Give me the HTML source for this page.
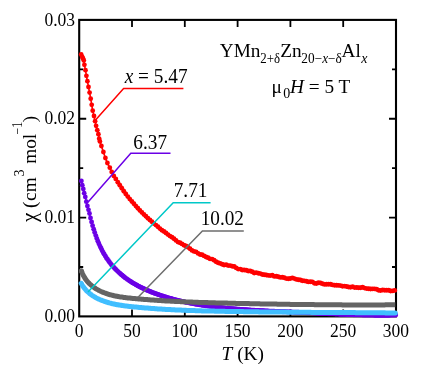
<!DOCTYPE html><html><head><meta charset="utf-8"><title>chart</title><style>
html,body{margin:0;padding:0;background:#fff}
#c{position:relative;width:436px;height:374px;overflow:hidden;background:#fff}
svg text{font-family:"Liberation Serif",serif;fill:#000}
</style></head><body><div id="c">
<svg width="436" height="374" viewBox="0 0 436 374" style="position:absolute;left:0;top:0">
<rect width="436" height="374" fill="#fff"/>
<rect x="79.2" y="19.9" width="316.8" height="296.5" fill="none" stroke="#000" stroke-width="2.1"/>
<path d="M132.00,316.4 v-7 M132.00,19.9 v7 M184.80,316.4 v-7 M184.80,19.9 v7 M237.60,316.4 v-7 M237.60,19.9 v7 M290.40,316.4 v-7 M290.40,19.9 v7 M343.20,316.4 v-7 M343.20,19.9 v7 M79.2,217.57 h7 M396.0,217.57 h-7 M79.2,118.73 h7 M396.0,118.73 h-7 M79.2,266.98 h4 M396.0,266.98 h-4 M79.2,168.15 h4 M396.0,168.15 h-4 M79.2,69.32 h4 M396.0,69.32 h-4" stroke="#000" stroke-width="1.8" fill="none"/>
<path d="M81.2,54.4 L82.2,56.8 L83,58.4 L83.8,60.4 L84.4,64.8 L85.5,70.2 L86.4,75.8 L87.4,81.2 L88.5,87 L89.6,92.6 L90.7,98.7 L91.7,104.8 L92.7,110.7 L94,116 L95.1,121.2 L96.1,125.8 L97.3,130.2 L98.4,134.2 L99.2,138.7 L99.9,141.4 L101.4,146 L103.4,152 L105.4,158 L107.4,163 L109.8,167.7 L111.7,171.9 L113.8,175.9" fill="none" stroke="#ff0000" stroke-width="1.6"/>
<path d="M113.0,173.9 L113.6,174.9 L114.1,175.9 L114.6,176.8 L115.2,177.8 L115.7,178.8 L116.3,179.7 L116.9,180.7 L117.5,181.6 L118.1,182.6 L118.6,183.5 L119.2,184.5 L119.9,185.4 L120.5,186.3 L121.1,187.3 L121.7,188.2 L122.3,189.1 L123.0,190.0 L123.6,190.9 L124.3,191.8 L124.9,192.7 L125.6,193.6 L126.3,194.5 L126.9,195.4 L127.6,196.3 L128.3,197.2 L129.0,198.0 L129.7,198.9 L130.4,199.8 L131.1,200.6 L131.8,201.5 L132.6,202.3 L133.3,203.2 L134.0,204.0 L134.8,204.9 L135.5,205.7 L136.2,206.5 L137.0,207.3 L137.8,208.2 L138.5,209.0 L139.3,209.8 L140.1,210.6 L140.8,211.4 L141.6,212.2 L142.4,213.0 L143.2,213.7 L144.0,214.5 L144.8,215.3 L145.6,216.1 L146.4,216.8 L147.2,217.6 L148.0,218.3 L148.9,219.1 L149.7,219.8 L150.5,220.6 L151.3,221.3 L152.2,222.1 L153.0,222.8 L153.9,223.5 L154.7,224.2 L155.6,224.9 L156.4,225.7 L157.3,226.4 L158.2,227.1 L159.0,227.8 L159.9,228.5 L160.8,229.2 L161.6,229.8 L162.5,230.5 L163.4,231.2 L164.3,231.9 L165.2,232.5 L166.1,233.2 L167.0,233.9 L167.9,234.5 L168.8,235.2 L169.7,235.8 L170.6,236.5 L171.5,237.1 L172.4,237.8 L173.3,238.4 L174.2,239.0 L175.2,239.7 L176.1,240.3 L177.0,240.9 L177.9,241.5 L178.9,242.1 L179.8,242.7 L180.7,243.4 L181.7,244.0 L182.6,244.5 L183.5,245.1 L184.5,245.7 L185.4,246.3 L186.4,246.9 L187.3,247.5 L188.3,248.0 L189.2,248.6 L190.2,249.1 L191.1,249.7 L192.1,250.2 L193.1,250.8 L194.0,251.3 L195.0,251.8 L196.0,252.4 L197.0,252.9 L198.0,253.4 L199.0,253.9 L199.9,254.4 L200.9,254.9 L201.9,255.4 L202.9,255.9 L203.9,256.3 L204.9,256.8 L206.0,257.3 L207.0,257.7 L208.0,258.2 L209.0,258.6 L210.0,259.0 L211.1,259.5 L212.1,259.9 L213.1,260.3 L214.2,260.7 L215.2,261.1 L216.3,261.5 L217.3,261.9 L218.4,262.3 L219.4,262.6 L220.5,263.0 L221.5,263.4 L222.6,263.7 L223.6,264.1 L224.7,264.4 L225.8,264.8 L226.8,265.1 L227.9,265.4 L229.0,265.8 L230.0,266.1 L231.1,266.4 L232.2,266.7 L233.2,267.0 L234.3,267.3 L235.4,267.6 L236.5,267.9 L237.5,268.2 L238.6,268.5 L239.7,268.8 L240.8,269.1 L241.8,269.3 L242.9,269.6 L244.0,269.9 L245.1,270.1 L246.1,270.4 L247.2,270.7 L248.3,270.9 L249.4,271.2 L250.5,271.4 L251.6,271.6 L252.6,271.9 L253.7,272.1 L254.8,272.3 L255.9,272.6 L257.0,272.8 L258.1,273.0 L259.1,273.3 L260.2,273.5 L261.3,273.7 L262.4,273.9 L263.5,274.1 L264.6,274.3 L265.7,274.5 L266.8,274.7 L267.9,274.9 L268.9,275.1 L270.0,275.3 L271.1,275.5 L272.2,275.7 L273.3,275.9 L274.4,276.1 L275.5,276.3 L276.6,276.5 L277.7,276.7 L278.8,276.9 L279.9,277.1 L281.0,277.3 L282.1,277.5 L283.2,277.6 L284.3,277.8 L285.4,278.0 L286.5,278.2 L287.5,278.4 L288.6,278.6 L289.7,278.7 L290.8,278.9 L291.9,279.1 L293.0,279.3 L294.1,279.5 L295.2,279.6 L296.3,279.8 L297.4,280.0 L298.5,280.1 L299.6,280.3 L300.7,280.5 L301.8,280.7 L302.9,280.8 L304.0,281.0 L305.2,281.2 L306.3,281.3 L307.4,281.5 L308.5,281.6 L309.6,281.8 L310.7,282.0 L311.8,282.1 L312.9,282.3 L314.0,282.4 L315.1,282.6 L316.2,282.7 L317.3,282.9 L318.4,283.0 L319.5,283.2 L320.6,283.3 L321.7,283.5 L322.8,283.6 L323.9,283.7 L325.0,283.9 L326.1,284.0 L327.2,284.2 L328.3,284.3 L329.5,284.4 L330.6,284.6 L331.7,284.7 L332.8,284.8 L333.9,285.0 L335.0,285.1 L336.1,285.2 L337.2,285.4 L338.3,285.5 L339.4,285.6 L340.5,285.7 L341.6,285.9 L342.7,286.0 L343.8,286.1 L344.9,286.2 L346.1,286.4 L347.2,286.5 L348.3,286.6 L349.4,286.7 L350.5,286.8 L351.6,287.0 L352.7,287.1 L353.8,287.2 L354.9,287.3 L356.0,287.4 L357.1,287.5 L358.2,287.6 L359.3,287.8 L360.4,287.9 L361.6,288.0 L362.7,288.1 L363.8,288.2 L364.9,288.3 L366.0,288.4 L367.1,288.5 L368.2,288.6 L369.3,288.7 L370.4,288.9 L371.5,289.0 L372.6,289.1 L373.7,289.2 L374.8,289.3 L375.9,289.4 L377.0,289.5 L378.1,289.6 L379.2,289.7 L380.3,289.8 L381.5,289.9 L382.6,290.0 L383.7,290.1 L384.8,290.2 L385.9,290.3 L387.0,290.4 L388.1,290.5 L389.2,290.6 L390.3,290.7 L391.4,290.8 L392.5,290.9 L393.6,291.0 L394.7,291.1 L395.8,291.2" fill="none" stroke="#ff0000" stroke-width="1.6" stroke-linecap="round" stroke-linejoin="round"/>
<g fill="#ff0000"><circle cx="81.2" cy="54.4" r="2.4"/><circle cx="82.2" cy="56.8" r="2.4"/><circle cx="83" cy="58.4" r="2.4"/><circle cx="83.8" cy="60.4" r="2.4"/><circle cx="84.4" cy="64.8" r="2.4"/><circle cx="85.5" cy="70.2" r="2.4"/><circle cx="86.4" cy="75.8" r="2.4"/><circle cx="87.4" cy="81.2" r="2.4"/><circle cx="88.5" cy="87" r="2.4"/><circle cx="89.6" cy="92.6" r="2.4"/><circle cx="90.7" cy="98.7" r="2.4"/><circle cx="91.7" cy="104.8" r="2.4"/><circle cx="92.7" cy="110.7" r="2.4"/><circle cx="94" cy="116" r="2.4"/><circle cx="95.1" cy="121.2" r="2.4"/><circle cx="96.1" cy="125.8" r="2.4"/><circle cx="97.3" cy="130.2" r="2.4"/><circle cx="98.4" cy="134.2" r="2.4"/><circle cx="99.2" cy="138.7" r="2.4"/><circle cx="99.9" cy="141.4" r="2.4"/><circle cx="101.4" cy="146" r="2.4"/><circle cx="103.4" cy="152" r="2.4"/><circle cx="105.4" cy="158" r="2.4"/><circle cx="107.4" cy="163" r="2.4"/><circle cx="109.8" cy="167.7" r="2.4"/><circle cx="111.7" cy="171.9" r="2.4"/><circle cx="113.8" cy="175.9" r="2.4"/></g>
<g fill="#ff0000"><circle cx="115.8" cy="178.9" r="2.45"/><circle cx="117.8" cy="182.2" r="2.45"/><circle cx="119.8" cy="185.3" r="2.45"/><circle cx="121.8" cy="188.3" r="2.45"/><circle cx="123.8" cy="191.2" r="2.45"/><circle cx="125.8" cy="193.9" r="2.45"/><circle cx="127.8" cy="196.6" r="2.45"/><circle cx="129.8" cy="199.1" r="2.45"/><circle cx="131.9" cy="201.5" r="2.45"/><circle cx="133.9" cy="203.8" r="2.45"/><circle cx="135.9" cy="206.1" r="2.45"/><circle cx="137.9" cy="208.3" r="2.45"/><circle cx="139.9" cy="210.4" r="2.45"/><circle cx="141.9" cy="212.4" r="2.45"/><circle cx="143.9" cy="214.4" r="2.45"/><circle cx="145.9" cy="216.3" r="2.45"/><circle cx="147.9" cy="218.2" r="2.45"/><circle cx="149.9" cy="220.0" r="2.45"/><circle cx="151.9" cy="221.8" r="2.45"/><circle cx="153.9" cy="223.5" r="2.45"/><circle cx="155.9" cy="225.1" r="2.45"/><circle cx="157.9" cy="226.8" r="2.45"/><circle cx="159.9" cy="228.6" r="2.45"/><circle cx="161.9" cy="230.2" r="2.45"/><circle cx="164.0" cy="231.5" r="2.45"/><circle cx="166.0" cy="233.0" r="2.45"/><circle cx="168.0" cy="234.6" r="2.45"/><circle cx="170.0" cy="236.1" r="2.45"/><circle cx="172.0" cy="237.3" r="2.45"/><circle cx="174.0" cy="238.8" r="2.45"/><circle cx="176.0" cy="240.4" r="2.45"/><circle cx="178.0" cy="242.1" r="2.45"/><circle cx="180.0" cy="242.8" r="2.45"/><circle cx="182.0" cy="243.9" r="2.45"/><circle cx="184.0" cy="245.2" r="2.45"/><circle cx="186.0" cy="246.0" r="2.45"/><circle cx="188.0" cy="247.3" r="2.45"/><circle cx="190.0" cy="248.7" r="2.45"/><circle cx="192.0" cy="250.4" r="2.45"/><circle cx="194.0" cy="251.4" r="2.45"/><circle cx="196.1" cy="251.9" r="2.45"/><circle cx="198.1" cy="253.4" r="2.45"/><circle cx="200.1" cy="254.5" r="2.45"/><circle cx="202.1" cy="254.8" r="2.45"/><circle cx="204.1" cy="255.9" r="2.45"/><circle cx="206.1" cy="257.0" r="2.45"/><circle cx="208.1" cy="257.8" r="2.45"/><circle cx="210.1" cy="258.9" r="2.45"/><circle cx="212.1" cy="259.1" r="2.45"/><circle cx="214.1" cy="260.2" r="2.45"/><circle cx="216.1" cy="261.8" r="2.45"/><circle cx="218.1" cy="262.7" r="2.45"/><circle cx="220.1" cy="263.4" r="2.45"/><circle cx="222.1" cy="264.2" r="2.45"/><circle cx="224.1" cy="265.0" r="2.45"/><circle cx="226.2" cy="264.8" r="2.45"/><circle cx="228.2" cy="265.6" r="2.45"/><circle cx="230.2" cy="265.6" r="2.45"/><circle cx="232.2" cy="266.2" r="2.45"/><circle cx="234.2" cy="266.5" r="2.45"/><circle cx="236.2" cy="267.9" r="2.45"/><circle cx="238.2" cy="269.1" r="2.45"/><circle cx="240.2" cy="269.1" r="2.45"/><circle cx="242.2" cy="270.0" r="2.45"/><circle cx="244.2" cy="270.0" r="2.45"/><circle cx="246.2" cy="270.3" r="2.45"/><circle cx="248.2" cy="271.0" r="2.45"/><circle cx="250.2" cy="271.0" r="2.45"/><circle cx="252.2" cy="271.8" r="2.45"/><circle cx="254.2" cy="273.0" r="2.45"/><circle cx="256.2" cy="272.6" r="2.45"/><circle cx="258.3" cy="273.2" r="2.45"/><circle cx="260.3" cy="273.6" r="2.45"/><circle cx="262.3" cy="274.5" r="2.45"/><circle cx="264.3" cy="274.8" r="2.45"/><circle cx="266.3" cy="275.0" r="2.45"/><circle cx="268.3" cy="275.4" r="2.45"/><circle cx="270.3" cy="275.6" r="2.45"/><circle cx="272.3" cy="275.3" r="2.45"/><circle cx="274.3" cy="276.4" r="2.45"/><circle cx="276.3" cy="276.2" r="2.45"/><circle cx="278.3" cy="276.7" r="2.45"/><circle cx="280.3" cy="277.4" r="2.45"/><circle cx="282.3" cy="277.3" r="2.45"/><circle cx="284.3" cy="277.7" r="2.45"/><circle cx="286.3" cy="278.6" r="2.45"/><circle cx="288.4" cy="278.7" r="2.45"/><circle cx="290.4" cy="278.5" r="2.45"/><circle cx="292.4" cy="277.9" r="2.45"/><circle cx="294.4" cy="278.6" r="2.45"/><circle cx="296.4" cy="279.4" r="2.45"/><circle cx="298.4" cy="279.8" r="2.45"/><circle cx="300.4" cy="280.0" r="2.45"/><circle cx="302.4" cy="280.7" r="2.45"/><circle cx="304.4" cy="280.9" r="2.45"/><circle cx="306.4" cy="281.2" r="2.45"/><circle cx="308.4" cy="281.9" r="2.45"/><circle cx="310.4" cy="281.7" r="2.45"/><circle cx="312.4" cy="281.9" r="2.45"/><circle cx="314.4" cy="283.2" r="2.45"/><circle cx="316.4" cy="283.5" r="2.45"/><circle cx="318.4" cy="282.7" r="2.45"/><circle cx="320.5" cy="283.0" r="2.45"/><circle cx="322.5" cy="283.7" r="2.45"/><circle cx="324.5" cy="284.4" r="2.45"/><circle cx="326.5" cy="284.3" r="2.45"/><circle cx="328.5" cy="284.2" r="2.45"/><circle cx="330.5" cy="284.2" r="2.45"/><circle cx="332.5" cy="284.9" r="2.45"/><circle cx="334.5" cy="285.3" r="2.45"/><circle cx="336.5" cy="285.2" r="2.45"/><circle cx="338.5" cy="285.4" r="2.45"/><circle cx="340.5" cy="285.6" r="2.45"/><circle cx="342.5" cy="286.2" r="2.45"/><circle cx="344.5" cy="286.1" r="2.45"/><circle cx="346.5" cy="286.5" r="2.45"/><circle cx="348.5" cy="287.0" r="2.45"/><circle cx="350.5" cy="287.2" r="2.45"/><circle cx="352.6" cy="286.8" r="2.45"/><circle cx="354.6" cy="287.6" r="2.45"/><circle cx="356.6" cy="287.5" r="2.45"/><circle cx="358.6" cy="287.7" r="2.45"/><circle cx="360.6" cy="287.7" r="2.45"/><circle cx="362.6" cy="287.3" r="2.45"/><circle cx="364.6" cy="288.1" r="2.45"/><circle cx="366.6" cy="288.6" r="2.45"/><circle cx="368.6" cy="288.7" r="2.45"/><circle cx="370.6" cy="289.0" r="2.45"/><circle cx="372.6" cy="288.9" r="2.45"/><circle cx="374.6" cy="288.9" r="2.45"/><circle cx="376.6" cy="289.3" r="2.45"/><circle cx="378.6" cy="290.3" r="2.45"/><circle cx="380.6" cy="290.5" r="2.45"/><circle cx="382.7" cy="290.0" r="2.45"/><circle cx="384.7" cy="290.3" r="2.45"/><circle cx="386.7" cy="290.3" r="2.45"/><circle cx="388.7" cy="290.3" r="2.45"/><circle cx="390.7" cy="291.0" r="2.45"/><circle cx="392.7" cy="290.9" r="2.45"/><circle cx="394.7" cy="290.4" r="2.45"/></g>
<path d="M81.4,180.9 L82.3,185.2 L83.3,188.9 L84.2,193.2 L85.3,196.9 L86.3,201.7 L87.4,206 L88.5,209.8 L89.5,213.5" fill="none" stroke="#6b00e6" stroke-width="1.6"/>
<path d="M89.0,212.1 L89.2,213.1 L89.5,214.0 L89.7,214.9 L90.0,215.9 L90.2,216.8 L90.4,217.7 L90.7,218.7 L90.9,219.6 L91.2,220.5 L91.4,221.5 L91.7,222.4 L92.0,223.3 L92.2,224.3 L92.5,225.2 L92.8,226.1 L93.0,227.1 L93.3,228.0 L93.6,228.9 L93.9,229.8 L94.2,230.7 L94.5,231.7 L94.8,232.6 L95.1,233.5 L95.4,234.4 L95.7,235.3 L96.0,236.2 L96.3,237.1 L96.7,238.0 L97.0,238.9 L97.4,239.8 L97.7,240.7 L98.1,241.6 L98.4,242.5 L98.8,243.4 L99.2,244.3 L99.6,245.2 L100.0,246.0 L100.4,246.9 L100.8,247.8 L101.2,248.6 L101.6,249.5 L102.1,250.3 L102.5,251.2 L103.0,252.0 L103.4,252.9 L103.9,253.7 L104.4,254.5 L104.9,255.4 L105.4,256.2 L105.9,257.0 L106.4,257.8 L107.0,258.6 L107.5,259.4 L108.0,260.2 L108.6,261.0 L109.2,261.8 L109.8,262.5 L110.3,263.3 L110.9,264.0 L111.6,264.8 L112.2,265.5 L112.8,266.3 L113.5,267.0 L114.1,267.7 L114.8,268.4 L115.5,269.1 L116.1,269.8 L116.8,270.5 L117.5,271.2 L118.3,271.9 L119.0,272.6 L119.7,273.2 L120.4,273.9 L121.2,274.5 L121.9,275.1 L122.7,275.8 L123.5,276.4 L124.2,277.0 L125.0,277.6 L125.8,278.2 L126.6,278.7 L127.3,279.3 L128.1,279.9 L128.9,280.4 L129.7,281.0 L130.5,281.5 L131.3,282.0 L132.1,282.5 L133.0,283.0 L133.8,283.5 L134.6,284.0 L135.4,284.5 L136.2,284.9 L137.1,285.4 L137.9,285.8 L138.7,286.3 L139.6,286.7 L140.4,287.1 L141.3,287.6 L142.1,288.0 L143.0,288.4 L143.8,288.8 L144.7,289.2 L145.6,289.6 L146.4,290.0 L147.3,290.3 L148.2,290.7 L149.0,291.1 L149.9,291.4 L150.8,291.8 L151.7,292.1 L152.6,292.5 L153.4,292.8 L154.3,293.1 L155.2,293.5 L156.1,293.8 L157.0,294.1 L157.9,294.4 L158.8,294.7 L159.7,295.1 L160.6,295.4 L161.5,295.7 L162.5,296.0 L163.4,296.3 L164.3,296.6 L165.2,296.8 L166.1,297.1 L167.0,297.4 L168.0,297.7 L168.9,298.0 L169.8,298.2 L170.7,298.5 L171.7,298.8 L172.6,299.0 L173.5,299.3 L174.5,299.5 L175.4,299.8 L176.3,300.0 L177.3,300.2 L178.2,300.5 L179.2,300.7 L180.1,300.9 L181.1,301.2 L182.0,301.4 L182.9,301.6 L183.9,301.8 L184.8,302.0 L185.8,302.2 L186.8,302.4 L187.7,302.6 L188.7,302.8 L189.6,303.0 L190.6,303.2 L191.5,303.4 L192.5,303.5 L193.4,303.7 L194.4,303.9 L195.4,304.1 L196.3,304.2 L197.3,304.4 L198.2,304.5 L199.2,304.7 L200.2,304.9 L201.1,305.0 L202.1,305.2 L203.1,305.3 L204.0,305.4 L205.0,305.6 L206.0,305.7 L206.9,305.9 L207.9,306.0 L208.8,306.1 L209.8,306.2 L210.8,306.4 L211.7,306.5 L212.7,306.6 L213.7,306.7 L214.6,306.9 L215.6,307.0 L216.6,307.1 L217.5,307.2 L218.5,307.3 L219.5,307.4 L220.4,307.5 L221.4,307.6 L222.3,307.7 L223.3,307.8 L224.3,307.9 L225.2,308.0 L226.2,308.1 L227.2,308.2 L228.1,308.3 L229.1,308.4 L230.1,308.5 L231.0,308.6 L232.0,308.7 L232.9,308.8 L233.9,308.8 L234.9,308.9 L235.8,309.0 L236.8,309.1 L237.7,309.2 L238.7,309.2 L239.7,309.3 L240.6,309.4 L241.6,309.5 L242.6,309.5 L243.5,309.6 L244.5,309.7 L245.4,309.7 L246.4,309.8 L247.4,309.9 L248.3,309.9 L249.3,310.0 L250.2,310.1 L251.2,310.1 L252.2,310.2 L253.1,310.2 L254.1,310.3 L255.0,310.3 L256.0,310.4 L257.0,310.5 L257.9,310.5 L258.9,310.6 L259.8,310.6 L260.8,310.7 L261.8,310.7 L262.7,310.8 L263.7,310.8 L264.6,310.9 L265.6,310.9 L266.6,311.0 L267.5,311.0 L268.5,311.1 L269.4,311.1 L270.4,311.1 L271.4,311.2 L272.3,311.2 L273.3,311.3 L274.2,311.3 L275.2,311.4 L276.2,311.4 L277.1,311.4 L278.1,311.5 L279.0,311.5 L280.0,311.6 L281.0,311.6 L281.9,311.6 L282.9,311.7 L283.8,311.7 L284.8,311.8 L285.8,311.8 L286.7,311.8 L287.7,311.9 L288.6,311.9 L289.6,312.0 L290.5,312.0 L291.5,312.0 L292.5,312.1 L293.4,312.1 L294.4,312.2 L295.3,312.2 L296.3,312.2 L297.3,312.3 L298.2,312.3 L299.2,312.4 L300.1,312.4 L301.1,312.4 L302.1,312.5 L303.0,312.5 L304.0,312.6 L304.9,312.6 L305.9,312.6 L306.9,312.7 L307.8,312.7 L308.8,312.8 L309.7,312.8 L310.7,312.9 L311.7,312.9 L312.6,312.9 L313.6,313.0 L314.5,313.0 L315.5,313.1 L316.5,313.1 L317.4,313.2 L318.4,313.2 L319.3,313.3 L320.3,313.3 L321.3,313.3 L322.2,313.4 L323.2,313.4 L324.1,313.5 L325.1,313.5 L326.1,313.6 L327.0,313.6 L328.0,313.7 L329.0,313.7 L329.9,313.7 L330.9,313.8 L331.8,313.8 L332.8,313.9 L333.8,313.9 L334.7,314.0 L335.7,314.0 L336.7,314.0 L337.6,314.1 L338.6,314.1 L339.5,314.2 L340.5,314.2 L341.5,314.2 L342.4,314.3 L343.4,314.3 L344.4,314.4 L345.3,314.4 L346.3,314.4 L347.2,314.5 L348.2,314.5 L349.2,314.5 L350.1,314.6 L351.1,314.6 L352.1,314.6 L353.0,314.7 L354.0,314.7 L355.0,314.7 L355.9,314.8 L356.9,314.8 L357.9,314.8 L358.8,314.8 L359.8,314.9 L360.7,314.9 L361.7,314.9 L362.7,314.9 L363.6,315.0 L364.6,315.0 L365.6,315.0 L366.5,315.0 L367.5,315.1 L368.5,315.1 L369.4,315.1 L370.4,315.1 L371.4,315.1 L372.3,315.1 L373.3,315.1 L374.3,315.2 L375.3,315.2 L376.2,315.2 L377.2,315.2 L378.2,315.2 L379.1,315.2 L380.1,315.2 L381.1,315.2 L382.0,315.2 L383.0,315.2 L384.0,315.2 L384.9,315.2 L385.9,315.2 L386.9,315.2 L387.9,315.2 L388.8,315.2 L389.8,315.1 L390.8,315.1 L391.7,315.1 L392.7,315.1 L393.7,315.1 L394.7,315.1 L395.6,315.0" fill="none" stroke="#6b00e6" stroke-width="1.6" stroke-linecap="round" stroke-linejoin="round"/>
<g fill="#6b00e6"><circle cx="81.4" cy="180.9" r="2.4"/><circle cx="82.3" cy="185.2" r="2.4"/><circle cx="83.3" cy="188.9" r="2.4"/><circle cx="84.2" cy="193.2" r="2.4"/><circle cx="85.3" cy="196.9" r="2.4"/><circle cx="86.3" cy="201.7" r="2.4"/><circle cx="87.4" cy="206" r="2.4"/><circle cx="88.5" cy="209.8" r="2.4"/><circle cx="89.5" cy="213.5" r="2.4"/></g>
<g fill="#6b00e6"><circle cx="90.5" cy="218.0" r="2.45"/><circle cx="91.6" cy="221.9" r="2.45"/><circle cx="92.6" cy="225.7" r="2.45"/><circle cx="93.7" cy="229.2" r="2.45"/><circle cx="94.7" cy="232.5" r="2.45"/><circle cx="95.8" cy="235.6" r="2.45"/><circle cx="96.8" cy="238.5" r="2.45"/><circle cx="97.9" cy="241.2" r="2.45"/><circle cx="98.9" cy="243.7" r="2.45"/><circle cx="100.0" cy="246.1" r="2.45"/><circle cx="101.1" cy="248.3" r="2.45"/><circle cx="102.1" cy="250.4" r="2.45"/><circle cx="103.2" cy="252.4" r="2.45"/><circle cx="104.2" cy="254.2" r="2.45"/><circle cx="105.3" cy="256.0" r="2.45"/><circle cx="106.3" cy="257.7" r="2.45"/><circle cx="107.4" cy="259.3" r="2.45"/><circle cx="108.5" cy="260.8" r="2.45"/><circle cx="109.5" cy="262.2" r="2.45"/><circle cx="110.6" cy="263.6" r="2.45"/><circle cx="111.6" cy="264.9" r="2.45"/><circle cx="112.7" cy="266.1" r="2.45"/><circle cx="113.7" cy="267.3" r="2.45"/><circle cx="114.8" cy="268.4" r="2.45"/><circle cx="115.8" cy="269.5" r="2.45"/><circle cx="116.9" cy="270.6" r="2.45"/><circle cx="118.0" cy="271.6" r="2.45"/><circle cx="119.0" cy="272.6" r="2.45"/><circle cx="120.1" cy="273.5" r="2.45"/><circle cx="121.1" cy="274.5" r="2.45"/><circle cx="122.2" cy="275.3" r="2.45"/><circle cx="123.2" cy="276.2" r="2.45"/><circle cx="124.3" cy="277.0" r="2.45"/><circle cx="125.3" cy="277.9" r="2.45"/><circle cx="126.4" cy="278.6" r="2.45"/><circle cx="127.5" cy="279.4" r="2.45"/><circle cx="128.5" cy="280.1" r="2.45"/><circle cx="129.6" cy="280.9" r="2.45"/><circle cx="130.6" cy="281.5" r="2.45"/><circle cx="131.7" cy="282.2" r="2.45"/><circle cx="132.7" cy="282.9" r="2.45"/><circle cx="133.8" cy="283.5" r="2.45"/><circle cx="134.9" cy="284.1" r="2.45"/><circle cx="135.9" cy="284.7" r="2.45"/><circle cx="137.0" cy="285.3" r="2.45"/><circle cx="138.0" cy="285.9" r="2.45"/><circle cx="139.1" cy="286.5" r="2.45"/><circle cx="140.1" cy="287.0" r="2.45"/><circle cx="141.2" cy="287.5" r="2.45"/><circle cx="142.2" cy="288.0" r="2.45"/><circle cx="143.3" cy="288.5" r="2.45"/><circle cx="144.4" cy="289.0" r="2.45"/><circle cx="145.4" cy="289.5" r="2.45"/><circle cx="146.5" cy="290.0" r="2.45"/><circle cx="147.5" cy="290.4" r="2.45"/><circle cx="148.6" cy="290.9" r="2.45"/><circle cx="149.6" cy="291.3" r="2.45"/><circle cx="150.7" cy="291.7" r="2.45"/><circle cx="151.7" cy="292.2" r="2.45"/><circle cx="152.8" cy="292.6" r="2.45"/><circle cx="153.9" cy="293.0" r="2.45"/><circle cx="154.9" cy="293.4" r="2.45"/><circle cx="156.0" cy="293.7" r="2.45"/><circle cx="157.0" cy="294.1" r="2.45"/><circle cx="158.1" cy="294.5" r="2.45"/><circle cx="159.1" cy="294.9" r="2.45"/><circle cx="160.2" cy="295.2" r="2.45"/><circle cx="161.3" cy="295.6" r="2.45"/><circle cx="162.3" cy="295.9" r="2.45"/><circle cx="163.4" cy="296.3" r="2.45"/><circle cx="164.4" cy="296.6" r="2.45"/><circle cx="165.5" cy="296.9" r="2.45"/><circle cx="166.5" cy="297.3" r="2.45"/><circle cx="167.6" cy="297.6" r="2.45"/><circle cx="168.6" cy="297.9" r="2.45"/><circle cx="169.7" cy="298.2" r="2.45"/><circle cx="170.8" cy="298.5" r="2.45"/><circle cx="171.8" cy="298.8" r="2.45"/><circle cx="172.9" cy="299.1" r="2.45"/><circle cx="173.9" cy="299.4" r="2.45"/><circle cx="175.0" cy="299.6" r="2.45"/><circle cx="176.0" cy="299.9" r="2.45"/><circle cx="177.1" cy="300.2" r="2.45"/><circle cx="178.1" cy="300.5" r="2.45"/><circle cx="179.2" cy="300.7" r="2.45"/><circle cx="180.3" cy="301.0" r="2.45"/><circle cx="181.3" cy="301.2" r="2.45"/><circle cx="182.4" cy="301.5" r="2.45"/><circle cx="183.4" cy="301.7" r="2.45"/><circle cx="184.5" cy="301.9" r="2.45"/><circle cx="185.5" cy="302.2" r="2.45"/><circle cx="186.6" cy="302.4" r="2.45"/><circle cx="187.7" cy="302.6" r="2.45"/><circle cx="188.7" cy="302.8" r="2.45"/><circle cx="189.8" cy="303.0" r="2.45"/><circle cx="190.8" cy="303.2" r="2.45"/><circle cx="191.9" cy="303.4" r="2.45"/><circle cx="192.9" cy="303.6" r="2.45"/><circle cx="194.0" cy="303.8" r="2.45"/><circle cx="195.0" cy="304.0" r="2.45"/><circle cx="196.1" cy="304.2" r="2.45"/><circle cx="197.2" cy="304.4" r="2.45"/><circle cx="198.2" cy="304.5" r="2.45"/><circle cx="199.3" cy="304.7" r="2.45"/><circle cx="200.3" cy="304.9" r="2.45"/><circle cx="201.4" cy="305.0" r="2.45"/><circle cx="202.4" cy="305.2" r="2.45"/><circle cx="203.5" cy="305.4" r="2.45"/><circle cx="204.5" cy="305.5" r="2.45"/><circle cx="205.6" cy="305.7" r="2.45"/><circle cx="206.7" cy="305.8" r="2.45"/><circle cx="207.7" cy="306.0" r="2.45"/><circle cx="208.8" cy="306.1" r="2.45"/><circle cx="209.8" cy="306.2" r="2.45"/><circle cx="210.9" cy="306.4" r="2.45"/><circle cx="211.9" cy="306.5" r="2.45"/><circle cx="213.0" cy="306.7" r="2.45"/><circle cx="214.1" cy="306.8" r="2.45"/><circle cx="215.1" cy="306.9" r="2.45"/><circle cx="216.2" cy="307.0" r="2.45"/><circle cx="217.2" cy="307.2" r="2.45"/><circle cx="218.3" cy="307.3" r="2.45"/><circle cx="219.3" cy="307.4" r="2.45"/><circle cx="220.4" cy="307.5" r="2.45"/><circle cx="221.4" cy="307.6" r="2.45"/><circle cx="222.5" cy="307.7" r="2.45"/><circle cx="223.6" cy="307.9" r="2.45"/><circle cx="224.6" cy="308.0" r="2.45"/><circle cx="225.7" cy="308.1" r="2.45"/><circle cx="226.7" cy="308.2" r="2.45"/><circle cx="227.8" cy="308.3" r="2.45"/><circle cx="228.8" cy="308.4" r="2.45"/><circle cx="229.9" cy="308.5" r="2.45"/><circle cx="230.9" cy="308.6" r="2.45"/><circle cx="232.0" cy="308.7" r="2.45"/><circle cx="233.1" cy="308.8" r="2.45"/><circle cx="234.1" cy="308.9" r="2.45"/><circle cx="235.2" cy="308.9" r="2.45"/><circle cx="236.2" cy="309.0" r="2.45"/><circle cx="237.3" cy="309.1" r="2.45"/><circle cx="238.3" cy="309.2" r="2.45"/><circle cx="239.4" cy="309.3" r="2.45"/><circle cx="240.5" cy="309.4" r="2.45"/><circle cx="241.5" cy="309.4" r="2.45"/><circle cx="242.6" cy="309.5" r="2.45"/><circle cx="243.6" cy="309.6" r="2.45"/><circle cx="244.7" cy="309.7" r="2.45"/><circle cx="245.7" cy="309.8" r="2.45"/><circle cx="246.8" cy="309.8" r="2.45"/><circle cx="247.8" cy="309.9" r="2.45"/><circle cx="248.9" cy="310.0" r="2.45"/><circle cx="250.0" cy="310.0" r="2.45"/><circle cx="251.0" cy="310.1" r="2.45"/><circle cx="252.1" cy="310.2" r="2.45"/><circle cx="253.1" cy="310.2" r="2.45"/><circle cx="254.2" cy="310.3" r="2.45"/><circle cx="255.2" cy="310.4" r="2.45"/><circle cx="256.3" cy="310.4" r="2.45"/><circle cx="257.3" cy="310.5" r="2.45"/><circle cx="258.4" cy="310.5" r="2.45"/><circle cx="259.5" cy="310.6" r="2.45"/><circle cx="260.5" cy="310.7" r="2.45"/><circle cx="261.6" cy="310.7" r="2.45"/><circle cx="262.6" cy="310.8" r="2.45"/><circle cx="263.7" cy="310.8" r="2.45"/><circle cx="264.7" cy="310.9" r="2.45"/><circle cx="265.8" cy="310.9" r="2.45"/><circle cx="266.9" cy="311.0" r="2.45"/><circle cx="267.9" cy="311.0" r="2.45"/><circle cx="269.0" cy="311.1" r="2.45"/><circle cx="270.0" cy="311.1" r="2.45"/><circle cx="271.1" cy="311.2" r="2.45"/><circle cx="272.1" cy="311.2" r="2.45"/><circle cx="273.2" cy="311.3" r="2.45"/><circle cx="274.2" cy="311.3" r="2.45"/><circle cx="275.3" cy="311.4" r="2.45"/><circle cx="276.4" cy="311.4" r="2.45"/><circle cx="277.4" cy="311.5" r="2.45"/><circle cx="278.5" cy="311.5" r="2.45"/><circle cx="279.5" cy="311.5" r="2.45"/><circle cx="280.6" cy="311.6" r="2.45"/><circle cx="281.6" cy="311.6" r="2.45"/><circle cx="282.7" cy="311.7" r="2.45"/><circle cx="283.7" cy="311.7" r="2.45"/><circle cx="284.8" cy="311.8" r="2.45"/><circle cx="285.9" cy="311.8" r="2.45"/><circle cx="286.9" cy="311.9" r="2.45"/><circle cx="288.0" cy="311.9" r="2.45"/><circle cx="289.0" cy="311.9" r="2.45"/><circle cx="290.1" cy="312.0" r="2.45"/><circle cx="291.1" cy="312.0" r="2.45"/><circle cx="292.2" cy="312.1" r="2.45"/><circle cx="293.3" cy="312.1" r="2.45"/><circle cx="294.3" cy="312.2" r="2.45"/><circle cx="295.4" cy="312.2" r="2.45"/><circle cx="296.4" cy="312.2" r="2.45"/><circle cx="297.5" cy="312.3" r="2.45"/><circle cx="298.5" cy="312.3" r="2.45"/><circle cx="299.6" cy="312.4" r="2.45"/><circle cx="300.6" cy="312.4" r="2.45"/><circle cx="301.7" cy="312.5" r="2.45"/><circle cx="302.8" cy="312.5" r="2.45"/><circle cx="303.8" cy="312.6" r="2.45"/><circle cx="304.9" cy="312.6" r="2.45"/><circle cx="305.9" cy="312.6" r="2.45"/><circle cx="307.0" cy="312.7" r="2.45"/><circle cx="308.0" cy="312.7" r="2.45"/><circle cx="309.1" cy="312.8" r="2.45"/><circle cx="310.1" cy="312.8" r="2.45"/><circle cx="311.2" cy="312.9" r="2.45"/><circle cx="312.3" cy="312.9" r="2.45"/><circle cx="313.3" cy="313.0" r="2.45"/><circle cx="314.4" cy="313.0" r="2.45"/><circle cx="315.4" cy="313.1" r="2.45"/><circle cx="316.5" cy="313.1" r="2.45"/><circle cx="317.5" cy="313.2" r="2.45"/><circle cx="318.6" cy="313.2" r="2.45"/><circle cx="319.7" cy="313.3" r="2.45"/><circle cx="320.7" cy="313.3" r="2.45"/><circle cx="321.8" cy="313.4" r="2.45"/><circle cx="322.8" cy="313.4" r="2.45"/><circle cx="323.9" cy="313.5" r="2.45"/><circle cx="324.9" cy="313.5" r="2.45"/><circle cx="326.0" cy="313.6" r="2.45"/><circle cx="327.0" cy="313.6" r="2.45"/><circle cx="328.1" cy="313.7" r="2.45"/><circle cx="329.2" cy="313.7" r="2.45"/><circle cx="330.2" cy="313.8" r="2.45"/><circle cx="331.3" cy="313.8" r="2.45"/><circle cx="332.3" cy="313.8" r="2.45"/><circle cx="333.4" cy="313.9" r="2.45"/><circle cx="334.4" cy="313.9" r="2.45"/><circle cx="335.5" cy="314.0" r="2.45"/><circle cx="336.5" cy="314.0" r="2.45"/><circle cx="337.6" cy="314.1" r="2.45"/><circle cx="338.7" cy="314.1" r="2.45"/><circle cx="339.7" cy="314.2" r="2.45"/><circle cx="340.8" cy="314.2" r="2.45"/><circle cx="341.8" cy="314.3" r="2.45"/><circle cx="342.9" cy="314.3" r="2.45"/><circle cx="343.9" cy="314.3" r="2.45"/><circle cx="345.0" cy="314.4" r="2.45"/><circle cx="346.1" cy="314.4" r="2.45"/><circle cx="347.1" cy="314.5" r="2.45"/><circle cx="348.2" cy="314.5" r="2.45"/><circle cx="349.2" cy="314.5" r="2.45"/><circle cx="350.3" cy="314.6" r="2.45"/><circle cx="351.3" cy="314.6" r="2.45"/><circle cx="352.4" cy="314.6" r="2.45"/><circle cx="353.4" cy="314.7" r="2.45"/><circle cx="354.5" cy="314.7" r="2.45"/><circle cx="355.6" cy="314.8" r="2.45"/><circle cx="356.6" cy="314.8" r="2.45"/><circle cx="357.7" cy="314.8" r="2.45"/><circle cx="358.7" cy="314.8" r="2.45"/><circle cx="359.8" cy="314.9" r="2.45"/><circle cx="360.8" cy="314.9" r="2.45"/><circle cx="361.9" cy="314.9" r="2.45"/><circle cx="362.9" cy="315.0" r="2.45"/><circle cx="364.0" cy="315.0" r="2.45"/><circle cx="365.1" cy="315.0" r="2.45"/><circle cx="366.1" cy="315.0" r="2.45"/><circle cx="367.2" cy="315.0" r="2.45"/><circle cx="368.2" cy="315.1" r="2.45"/><circle cx="369.3" cy="315.1" r="2.45"/><circle cx="370.3" cy="315.1" r="2.45"/><circle cx="371.4" cy="315.1" r="2.45"/><circle cx="372.5" cy="315.1" r="2.45"/><circle cx="373.5" cy="315.1" r="2.45"/><circle cx="374.6" cy="315.2" r="2.45"/><circle cx="375.6" cy="315.2" r="2.45"/><circle cx="376.7" cy="315.2" r="2.45"/><circle cx="377.7" cy="315.2" r="2.45"/><circle cx="378.8" cy="315.2" r="2.45"/><circle cx="379.8" cy="315.2" r="2.45"/><circle cx="380.9" cy="315.2" r="2.45"/><circle cx="382.0" cy="315.2" r="2.45"/><circle cx="383.0" cy="315.2" r="2.45"/><circle cx="384.1" cy="315.2" r="2.45"/><circle cx="385.1" cy="315.2" r="2.45"/><circle cx="386.2" cy="315.2" r="2.45"/><circle cx="387.2" cy="315.2" r="2.45"/><circle cx="388.3" cy="315.2" r="2.45"/><circle cx="389.3" cy="315.2" r="2.45"/><circle cx="390.4" cy="315.1" r="2.45"/><circle cx="391.5" cy="315.1" r="2.45"/><circle cx="392.5" cy="315.1" r="2.45"/><circle cx="393.6" cy="315.1" r="2.45"/><circle cx="394.6" cy="315.1" r="2.45"/><circle cx="395.7" cy="315.0" r="2.45"/></g>
<path d="M81.4,270.7 L81.7,271.6 L82.0,272.4 L82.3,273.2 L82.7,274.0 L83.1,274.8 L83.4,275.6 L83.9,276.3 L84.3,277.1 L84.7,277.8 L85.2,278.5 L85.6,279.2 L86.1,279.9 L86.6,280.5 L87.1,281.1 L87.7,281.8 L88.2,282.4 L88.7,283.0 L89.3,283.5 L89.9,284.1 L90.5,284.6 L91.1,285.2 L91.7,285.7 L92.3,286.2 L92.9,286.7 L93.6,287.1 L94.2,287.6 L94.9,288.0 L95.5,288.5 L96.2,288.9 L96.9,289.3 L97.6,289.7 L98.3,290.1 L99.0,290.5 L99.7,290.8 L100.4,291.2 L101.1,291.5 L101.8,291.8 L102.6,292.1 L103.3,292.4 L104.0,292.7 L104.8,293.0 L105.5,293.3 L106.3,293.5 L107.0,293.8 L107.8,294.0 L108.6,294.3 L109.3,294.5 L110.1,294.7 L110.9,294.9 L111.6,295.1 L112.4,295.3 L113.2,295.5 L114.0,295.7 L114.8,295.9 L115.6,296.0 L116.4,296.2 L117.1,296.3 L117.9,296.5 L118.7,296.6 L119.5,296.8 L120.3,296.9 L121.2,297.0 L122.0,297.1 L122.8,297.2 L123.6,297.4 L124.4,297.5 L125.2,297.6 L126.0,297.7 L126.8,297.8 L127.6,297.9 L128.5,297.9 L129.3,298.0 L130.1,298.1 L130.9,298.2 L131.7,298.3 L132.5,298.4 L133.4,298.4 L134.2,298.5 L135.0,298.6 L135.8,298.7 L136.6,298.7 L137.5,298.8 L138.3,298.9 L139.1,299.0 L139.9,299.0 L140.7,299.1 L141.5,299.2 L142.4,299.2 L143.2,299.3 L144.0,299.4 L144.8,299.4 L145.6,299.5 L146.5,299.6 L147.3,299.6 L148.1,299.7 L148.9,299.8 L149.7,299.8 L150.5,299.9 L151.4,299.9 L152.2,300.0 L153.0,300.1 L153.8,300.1 L154.6,300.2 L155.4,300.2 L156.3,300.3 L157.1,300.3 L157.9,300.4 L158.7,300.4 L159.5,300.5 L160.3,300.6 L161.2,300.6 L162.0,300.7 L162.8,300.7 L163.6,300.8 L164.4,300.8 L165.2,300.9 L166.0,300.9 L166.9,300.9 L167.7,301.0 L168.5,301.0 L169.3,301.1 L170.1,301.1 L170.9,301.2 L171.7,301.2 L172.6,301.3 L173.4,301.3 L174.2,301.3 L175.0,301.4 L175.8,301.4 L176.6,301.5 L177.5,301.5 L178.3,301.5 L179.1,301.6 L179.9,301.6 L180.7,301.7 L181.5,301.7 L182.3,301.7 L183.2,301.8 L184.0,301.8 L184.8,301.8 L185.6,301.9 L186.4,301.9 L187.2,301.9 L188.0,302.0 L188.8,302.0 L189.7,302.0 L190.5,302.1 L191.3,302.1 L192.1,302.1 L192.9,302.2 L193.7,302.2 L194.5,302.2 L195.4,302.2 L196.2,302.3 L197.0,302.3 L197.8,302.3 L198.6,302.4 L199.4,302.4 L200.2,302.4 L201.0,302.4 L201.9,302.5 L202.7,302.5 L203.5,302.5 L204.3,302.5 L205.1,302.6 L205.9,302.6 L206.7,302.6 L207.5,302.6 L208.4,302.7 L209.2,302.7 L210.0,302.7 L210.8,302.7 L211.6,302.8 L212.4,302.8 L213.2,302.8 L214.0,302.8 L214.9,302.8 L215.7,302.9 L216.5,302.9 L217.3,302.9 L218.1,302.9 L218.9,302.9 L219.7,303.0 L220.5,303.0 L221.4,303.0 L222.2,303.0 L223.0,303.0 L223.8,303.1 L224.6,303.1 L225.4,303.1 L226.2,303.1 L227.0,303.1 L227.8,303.2 L228.7,303.2 L229.5,303.2 L230.3,303.2 L231.1,303.2 L231.9,303.3 L232.7,303.3 L233.5,303.3 L234.3,303.3 L235.1,303.3 L236.0,303.4 L236.8,303.4 L237.6,303.4 L238.4,303.4 L239.2,303.4 L240.0,303.4 L240.8,303.5 L241.6,303.5 L242.4,303.5 L243.3,303.5 L244.1,303.5 L244.9,303.5 L245.7,303.6 L246.5,303.6 L247.3,303.6 L248.1,303.6 L248.9,303.6 L249.7,303.7 L250.6,303.7 L251.4,303.7 L252.2,303.7 L253.0,303.7 L253.8,303.7 L254.6,303.7 L255.4,303.8 L256.2,303.8 L257.0,303.8 L257.9,303.8 L258.7,303.8 L259.5,303.8 L260.3,303.9 L261.1,303.9 L261.9,303.9 L262.7,303.9 L263.5,303.9 L264.3,303.9 L265.2,304.0 L266.0,304.0 L266.8,304.0 L267.6,304.0 L268.4,304.0 L269.2,304.0 L270.0,304.0 L270.8,304.1 L271.6,304.1 L272.5,304.1 L273.3,304.1 L274.1,304.1 L274.9,304.1 L275.7,304.1 L276.5,304.1 L277.3,304.2 L278.1,304.2 L278.9,304.2 L279.8,304.2 L280.6,304.2 L281.4,304.2 L282.2,304.2 L283.0,304.3 L283.8,304.3 L284.6,304.3 L285.4,304.3 L286.2,304.3 L287.1,304.3 L287.9,304.3 L288.7,304.3 L289.5,304.3 L290.3,304.4 L291.1,304.4 L291.9,304.4 L292.7,304.4 L293.5,304.4 L294.4,304.4 L295.2,304.4 L296.0,304.4 L296.8,304.4 L297.6,304.5 L298.4,304.5 L299.2,304.5 L300.0,304.5 L300.8,304.5 L301.7,304.5 L302.5,304.5 L303.3,304.5 L304.1,304.5 L304.9,304.5 L305.7,304.6 L306.5,304.6 L307.3,304.6 L308.1,304.6 L309.0,304.6 L309.8,304.6 L310.6,304.6 L311.4,304.6 L312.2,304.6 L313.0,304.6 L313.8,304.6 L314.6,304.7 L315.5,304.7 L316.3,304.7 L317.1,304.7 L317.9,304.7 L318.7,304.7 L319.5,304.7 L320.3,304.7 L321.1,304.7 L322.0,304.7 L322.8,304.7 L323.6,304.7 L324.4,304.7 L325.2,304.7 L326.0,304.8 L326.8,304.8 L327.6,304.8 L328.5,304.8 L329.3,304.8 L330.1,304.8 L330.9,304.8 L331.7,304.8 L332.5,304.8 L333.3,304.8 L334.1,304.8 L335.0,304.8 L335.8,304.8 L336.6,304.8 L337.4,304.8 L338.2,304.8 L339.0,304.8 L339.8,304.8 L340.6,304.8 L341.5,304.8 L342.3,304.9 L343.1,304.9 L343.9,304.9 L344.7,304.9 L345.5,304.9 L346.3,304.9 L347.2,304.9 L348.0,304.9 L348.8,304.9 L349.6,304.9 L350.4,304.9 L351.2,304.9 L352.0,304.9 L352.9,304.9 L353.7,304.9 L354.5,304.9 L355.3,304.9 L356.1,304.9 L356.9,304.9 L357.7,304.9 L358.6,304.9 L359.4,304.9 L360.2,304.9 L361.0,304.9 L361.8,304.9 L362.6,304.9 L363.4,304.9 L364.3,304.9 L365.1,304.9 L365.9,304.9 L366.7,304.9 L367.5,304.9 L368.3,304.9 L369.2,304.9 L370.0,304.9 L370.8,304.9 L371.6,304.9 L372.4,304.9 L373.2,304.9 L374.0,304.9 L374.9,304.9 L375.7,304.9 L376.5,304.9 L377.3,304.9 L378.1,304.9 L378.9,304.9 L379.8,304.9 L380.6,304.9 L381.4,304.9 L382.2,304.9 L383.0,304.9 L383.8,304.9 L384.7,304.9 L385.5,304.8 L386.3,304.8 L387.1,304.8 L387.9,304.8 L388.7,304.8 L389.6,304.8 L390.4,304.8 L391.2,304.8 L392.0,304.8 L392.8,304.8 L393.7,304.8 L394.5,304.8 L395.3,304.8" fill="none" stroke="#646464" stroke-width="5.0" stroke-linecap="butt" stroke-linejoin="round"/>
<circle cx="81.4" cy="270.7" r="2.5" fill="#646464"/>
<path d="M81.2,283.3 L81.7,284.1 L82.1,284.9 L82.5,285.6 L83.0,286.3 L83.5,287.0 L84.0,287.7 L84.5,288.3 L85.0,288.9 L85.5,289.6 L86.1,290.2 L86.6,290.8 L87.2,291.3 L87.8,291.9 L88.4,292.4 L89.0,292.9 L89.6,293.5 L90.2,294.0 L90.8,294.4 L91.5,294.9 L92.1,295.4 L92.8,295.8 L93.4,296.2 L94.1,296.6 L94.8,297.0 L95.5,297.4 L96.1,297.8 L96.8,298.2 L97.5,298.5 L98.3,298.9 L99.0,299.2 L99.7,299.5 L100.4,299.8 L101.2,300.1 L101.9,300.4 L102.6,300.7 L103.4,301.0 L104.1,301.3 L104.9,301.5 L105.6,301.8 L106.4,302.0 L107.1,302.3 L107.9,302.5 L108.7,302.7 L109.4,302.9 L110.2,303.1 L111.0,303.3 L111.7,303.5 L112.5,303.7 L113.3,303.9 L114.1,304.0 L114.9,304.2 L115.6,304.4 L116.4,304.5 L117.2,304.7 L118.0,304.8 L118.8,305.0 L119.6,305.1 L120.4,305.2 L121.2,305.3 L122.0,305.5 L122.8,305.6 L123.6,305.7 L124.4,305.8 L125.2,305.9 L126.0,306.0 L126.8,306.1 L127.6,306.2 L128.4,306.3 L129.2,306.4 L130.1,306.5 L130.9,306.6 L131.7,306.7 L132.5,306.7 L133.3,306.8 L134.1,306.9 L134.9,307.0 L135.7,307.1 L136.5,307.1 L137.3,307.2 L138.2,307.3 L139.0,307.4 L139.8,307.5 L140.6,307.5 L141.4,307.6 L142.2,307.7 L143.0,307.7 L143.8,307.8 L144.6,307.9 L145.4,308.0 L146.2,308.0 L147.1,308.1 L147.9,308.1 L148.7,308.2 L149.5,308.3 L150.3,308.3 L151.1,308.4 L151.9,308.5 L152.7,308.5 L153.5,308.6 L154.3,308.6 L155.1,308.7 L155.9,308.8 L156.8,308.8 L157.6,308.9 L158.4,308.9 L159.2,309.0 L160.0,309.0 L160.8,309.1 L161.6,309.1 L162.4,309.2 L163.2,309.2 L164.0,309.3 L164.8,309.3 L165.6,309.4 L166.4,309.4 L167.3,309.5 L168.1,309.5 L168.9,309.6 L169.7,309.6 L170.5,309.6 L171.3,309.7 L172.1,309.7 L172.9,309.8 L173.7,309.8 L174.5,309.8 L175.3,309.9 L176.1,309.9 L176.9,310.0 L177.7,310.0 L178.5,310.0 L179.4,310.1 L180.2,310.1 L181.0,310.1 L181.8,310.2 L182.6,310.2 L183.4,310.2 L184.2,310.3 L185.0,310.3 L185.8,310.3 L186.6,310.4 L187.4,310.4 L188.2,310.4 L189.0,310.5 L189.8,310.5 L190.6,310.5 L191.4,310.5 L192.3,310.6 L193.1,310.6 L193.9,310.6 L194.7,310.6 L195.5,310.7 L196.3,310.7 L197.1,310.7 L197.9,310.7 L198.7,310.8 L199.5,310.8 L200.3,310.8 L201.1,310.8 L201.9,310.9 L202.7,310.9 L203.5,310.9 L204.3,310.9 L205.1,310.9 L206.0,311.0 L206.8,311.0 L207.6,311.0 L208.4,311.0 L209.2,311.0 L210.0,311.1 L210.8,311.1 L211.6,311.1 L212.4,311.1 L213.2,311.1 L214.0,311.1 L214.8,311.2 L215.6,311.2 L216.4,311.2 L217.2,311.2 L218.0,311.2 L218.8,311.2 L219.6,311.3 L220.4,311.3 L221.2,311.3 L222.1,311.3 L222.9,311.3 L223.7,311.3 L224.5,311.3 L225.3,311.4 L226.1,311.4 L226.9,311.4 L227.7,311.4 L228.5,311.4 L229.3,311.4 L230.1,311.4 L230.9,311.5 L231.7,311.5 L232.5,311.5 L233.3,311.5 L234.1,311.5 L234.9,311.5 L235.7,311.5 L236.5,311.5 L237.3,311.6 L238.1,311.6 L238.9,311.6 L239.8,311.6 L240.6,311.6 L241.4,311.6 L242.2,311.6 L243.0,311.6 L243.8,311.7 L244.6,311.7 L245.4,311.7 L246.2,311.7 L247.0,311.7 L247.8,311.7 L248.6,311.7 L249.4,311.7 L250.2,311.7 L251.0,311.8 L251.8,311.8 L252.6,311.8 L253.4,311.8 L254.2,311.8 L255.0,311.8 L255.8,311.8 L256.6,311.8 L257.4,311.8 L258.3,311.8 L259.1,311.9 L259.9,311.9 L260.7,311.9 L261.5,311.9 L262.3,311.9 L263.1,311.9 L263.9,311.9 L264.7,311.9 L265.5,311.9 L266.3,311.9 L267.1,311.9 L267.9,312.0 L268.7,312.0 L269.5,312.0 L270.3,312.0 L271.1,312.0 L271.9,312.0 L272.7,312.0 L273.5,312.0 L274.3,312.0 L275.1,312.0 L275.9,312.0 L276.7,312.1 L277.6,312.1 L278.4,312.1 L279.2,312.1 L280.0,312.1 L280.8,312.1 L281.6,312.1 L282.4,312.1 L283.2,312.1 L284.0,312.1 L284.8,312.1 L285.6,312.1 L286.4,312.1 L287.2,312.2 L288.0,312.2 L288.8,312.2 L289.6,312.2 L290.4,312.2 L291.2,312.2 L292.0,312.2 L292.8,312.2 L293.6,312.2 L294.4,312.2 L295.2,312.2 L296.1,312.2 L296.9,312.2 L297.7,312.2 L298.5,312.3 L299.3,312.3 L300.1,312.3 L300.9,312.3 L301.7,312.3 L302.5,312.3 L303.3,312.3 L304.1,312.3 L304.9,312.3 L305.7,312.3 L306.5,312.3 L307.3,312.3 L308.1,312.3 L308.9,312.3 L309.7,312.3 L310.5,312.3 L311.3,312.4 L312.1,312.4 L313.0,312.4 L313.8,312.4 L314.6,312.4 L315.4,312.4 L316.2,312.4 L317.0,312.4 L317.8,312.4 L318.6,312.4 L319.4,312.4 L320.2,312.4 L321.0,312.4 L321.8,312.4 L322.6,312.4 L323.4,312.4 L324.2,312.4 L325.0,312.5 L325.8,312.5 L326.6,312.5 L327.5,312.5 L328.3,312.5 L329.1,312.5 L329.9,312.5 L330.7,312.5 L331.5,312.5 L332.3,312.5 L333.1,312.5 L333.9,312.5 L334.7,312.5 L335.5,312.5 L336.3,312.5 L337.1,312.5 L337.9,312.5 L338.7,312.5 L339.5,312.5 L340.3,312.6 L341.2,312.6 L342.0,312.6 L342.8,312.6 L343.6,312.6 L344.4,312.6 L345.2,312.6 L346.0,312.6 L346.8,312.6 L347.6,312.6 L348.4,312.6 L349.2,312.6 L350.0,312.6 L350.8,312.6 L351.6,312.6 L352.4,312.6 L353.3,312.6 L354.1,312.6 L354.9,312.6 L355.7,312.7 L356.5,312.7 L357.3,312.7 L358.1,312.7 L358.9,312.7 L359.7,312.7 L360.5,312.7 L361.3,312.7 L362.1,312.7 L362.9,312.7 L363.7,312.7 L364.6,312.7 L365.4,312.7 L366.2,312.7 L367.0,312.7 L367.8,312.7 L368.6,312.7 L369.4,312.7 L370.2,312.7 L371.0,312.8 L371.8,312.8 L372.6,312.8 L373.4,312.8 L374.3,312.8 L375.1,312.8 L375.9,312.8 L376.7,312.8 L377.5,312.8 L378.3,312.8 L379.1,312.8 L379.9,312.8 L380.7,312.8 L381.5,312.8 L382.3,312.8 L383.1,312.8 L384.0,312.8 L384.8,312.8 L385.6,312.9 L386.4,312.9 L387.2,312.9 L388.0,312.9 L388.8,312.9 L389.6,312.9 L390.4,312.9 L391.2,312.9 L392.1,312.9 L392.9,312.9 L393.7,312.9 L394.5,312.9 L395.3,312.9" fill="none" stroke="#40beff" stroke-width="5.0" stroke-linecap="round" stroke-linejoin="round"/>
<path d="M94.2,121.5 L123.6,88.5 H183.4" fill="none" stroke="#ff0000" stroke-width="1.5" stroke-linejoin="miter"/>
<path d="M87.9,202.3 L130.8,153.2 H170.5" fill="none" stroke="#6b00e6" stroke-width="1.5" stroke-linejoin="miter"/>
<path d="M88.0,292.0 L173.2,202.7 H210.6" fill="none" stroke="#00c8c8" stroke-width="1.5" stroke-linejoin="miter"/>
<path d="M138.3,297.0 L202.4,231.1 H243.8" fill="none" stroke="#6e6e6e" stroke-width="1.5" stroke-linejoin="miter"/>
<g style="will-change:transform">
<text transform="translate(75.0,322.0) scale(1,1.05)" font-size="17.5" text-anchor="end" >0.00</text>
<text transform="translate(75.0,223.2) scale(1,1.05)" font-size="17.5" text-anchor="end" >0.01</text>
<text transform="translate(75.0,124.3) scale(1,1.05)" font-size="17.5" text-anchor="end" >0.02</text>
<text transform="translate(75.0,25.5) scale(1,1.05)" font-size="17.5" text-anchor="end" >0.03</text>
<text transform="translate(79.1,336.8) scale(1,1.05)" font-size="17.5" text-anchor="middle" >0</text>
<text transform="translate(131.9,336.8) scale(1,1.05)" font-size="17.5" text-anchor="middle" >50</text>
<text transform="translate(184.7,336.8) scale(1,1.05)" font-size="17.5" text-anchor="middle" >100</text>
<text transform="translate(237.5,336.8) scale(1,1.05)" font-size="17.5" text-anchor="middle" >150</text>
<text transform="translate(290.3,336.8) scale(1,1.05)" font-size="17.5" text-anchor="middle" >200</text>
<text transform="translate(343.1,336.8) scale(1,1.05)" font-size="17.5" text-anchor="middle" >250</text>
<text transform="translate(395.9,336.8) scale(1,1.05)" font-size="17.5" text-anchor="middle" >300</text>
<text x="221.6" y="360" font-size="19.3" text-anchor="start" ><tspan font-style="italic">T</tspan> (K)</text>
<text transform="translate(36.2,221.9) rotate(-90)" font-size="21" >χ</text>
<text transform="translate(36.2,208.1) rotate(-90)" font-size="19.3" >(</text>
<text transform="translate(36.2,200.9) rotate(-90)" font-size="19.3" >cm</text>
<text transform="translate(23.6,176.5) rotate(-90)" font-size="14" >3</text>
<text transform="translate(36.2,163.8) rotate(-90)" font-size="19.3" >mol</text>
<text transform="translate(21.8,134.4) rotate(-90)" font-size="14" textLength="12.6" lengthAdjust="spacingAndGlyphs">−1</text>
<text transform="translate(36.2,122.3) rotate(-90)" font-size="19.3" >)</text>
<text x="219.8" y="56.8" font-size="19.3" text-anchor="start" >YMn</text>
<text x="260.2" y="62.6" font-size="14" text-anchor="start" textLength="19.8" lengthAdjust="spacingAndGlyphs">2+δ</text>
<text x="280.2" y="56.8" font-size="19.3" text-anchor="start" >Zn</text>
<text x="301.3" y="62.6" font-size="14" text-anchor="start" textLength="40.6" lengthAdjust="spacingAndGlyphs">20−<tspan font-style="italic">x</tspan>−δ</text>
<text x="341.6" y="56.8" font-size="19.3" text-anchor="start" >Al</text>
<text x="361.2" y="62.6" font-size="14" text-anchor="start" ><tspan font-style="italic">x</tspan></text>
<text x="271.5" y="92.7" font-size="19.3" text-anchor="start" >μ</text>
<text x="283.3" y="98.4" font-size="14" text-anchor="start" >0</text>
<text x="290.0" y="92.7" font-size="19.3" text-anchor="start" ><tspan font-style="italic">H</tspan> = 5 T</text>
<text transform="translate(124.7,82.5) scale(1,1.04)" font-size="19.3" text-anchor="start" ><tspan font-style="italic">x</tspan> = 5.47</text>
<text transform="translate(133.3,148.9) scale(1,1.04)" font-size="19.3" text-anchor="start" >6.37</text>
<text transform="translate(173.7,196.6) scale(1,1.04)" font-size="19.3" text-anchor="start" >7.71</text>
<text transform="translate(200.7,225.1) scale(1,1.04)" font-size="19.2" text-anchor="start" >10.02</text>
</g>
</svg>
</div></body></html>
